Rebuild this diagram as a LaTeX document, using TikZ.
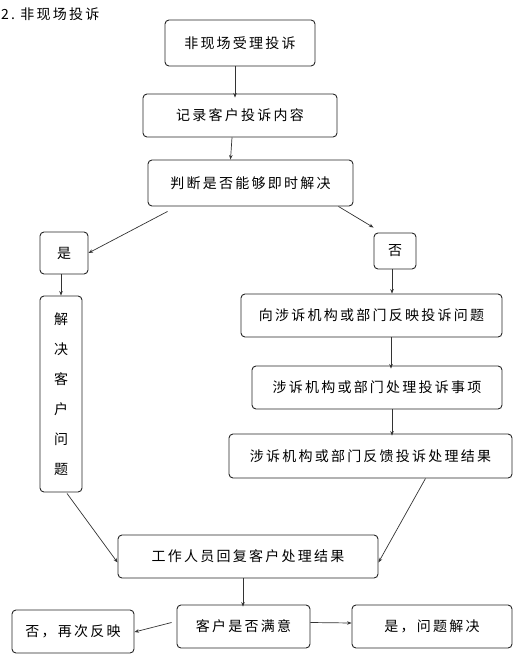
\documentclass[tikz,border=0pt]{standalone}
\usepackage{fontspec}
\setmainfont{Noto Sans CJK SC}[LetterSpace=16]
\usetikzlibrary{arrows.meta}

\begin{document}
\begin{tikzpicture}[x=1pt, y=-1pt, >={Stealth[length=4.5pt,width=3.5pt]}]
        \tikzstyle{every node}=[font=\fontsize{14pt}{16pt}\selectfont, inner sep=0pt]
        \tikzstyle{box}=[draw=black!85, line width=0.9pt, rounded corners=4pt, align=center]
        \tikzstyle{arr}=[->, draw=black!80, line width=0.7pt]
        \useasboundingbox (0,0) rectangle (520,660);
        \node [anchor=west] (title) at (1,14) {2.~非现场投诉};
        \node [box, minimum width=150pt, minimum height=46pt] (accept) at (240,43) {非现场受理投诉};
        \node [box, minimum width=194pt, minimum height=43pt] (record) at (240,115.5) {记录客户投诉内容};
        \node [box, minimum width=205pt, minimum height=46pt] (judge) at (250.5,183) {判断是否能够即时解决};
        \node [box, minimum width=48pt, minimum height=42pt] (yes) at (64,253) {是};
        \node [box, minimum width=42pt, minimum height=36pt] (no) at (395,251) {否};
        \node [box, minimum width=42pt, minimum height=196pt, font=\fontsize{14pt}{30pt}\selectfont] (solve) at (61,394) {解\\决\\客\\户\\问\\题};
        \node [box, minimum width=261pt, minimum height=43pt] (report) at (371.5,315.5) {向涉诉机构或部门反映投诉问题};
        \node [box, minimum width=250pt, minimum height=43pt] (handle) at (377,387.5) {涉诉机构或部门处理投诉事项};
        \node [box, minimum width=283pt, minimum height=44pt] (feedback) at (370.5,456) {涉诉机构或部门反馈投诉处理结果};
        \node [box, minimum width=260pt, minimum height=43pt] (reply) at (248,556.5) {工作人员回复客户处理结果};
        \node [box, minimum width=133pt, minimum height=43pt] (satisfied) at (243.5,626.5) {客户是否满意};
        \node [box, minimum width=122pt, minimum height=43pt] (again) at (73,631.5) {否，再次反映};
        \node [box, minimum width=160pt, minimum height=43pt] (done) at (432,626.5) {是，问题解决};
        \draw [arr] ([xshift=-5pt]accept.south) -- ([xshift=-5pt,yshift=-4pt]record.north);
        \draw [arr] ([xshift=-8pt]record.south) -- ([xshift=-20pt]judge.north);
        \draw [arr] ([xshift=20pt,yshift=-5pt]judge.south west) -- (yes.east);
        \draw [arr] ([xshift=-15pt]judge.south east) -- ([yshift=5pt]no.north west);
        \draw [arr] ([xshift=-3pt]yes.south) -- ([xshift=0pt]solve.north);
        \draw [arr] ([xshift=-3pt]no.south) -- ([xshift=20.5pt]report.north);
        \draw [arr] ([xshift=19.5pt]report.south) -- ([xshift=14pt,yshift=-3pt]handle.north);
        \draw [arr] ([xshift=15pt]handle.south) -- ([xshift=21.5pt,yshift=-2pt]feedback.north);
        \draw [arr] ([xshift=55pt]feedback.south) -- ([yshift=-6pt]reply.east);
        \draw [arr] ([xshift=6pt,yshift=-1pt]solve.south) -- ([yshift=-6pt]reply.west);
        \draw [arr] ([xshift=-5pt]reply.south) -- ([xshift=-0.5pt,yshift=-2pt]satisfied.north);
        \draw [arr] ([xshift=-5pt,yshift=4pt]satisfied.west) -- ([yshift=-0.5pt]again.east);
        \draw [arr] ([yshift=4pt]satisfied.east) -- ([yshift=3.5pt]done.west);
    \end{tikzpicture}
\end{document}
